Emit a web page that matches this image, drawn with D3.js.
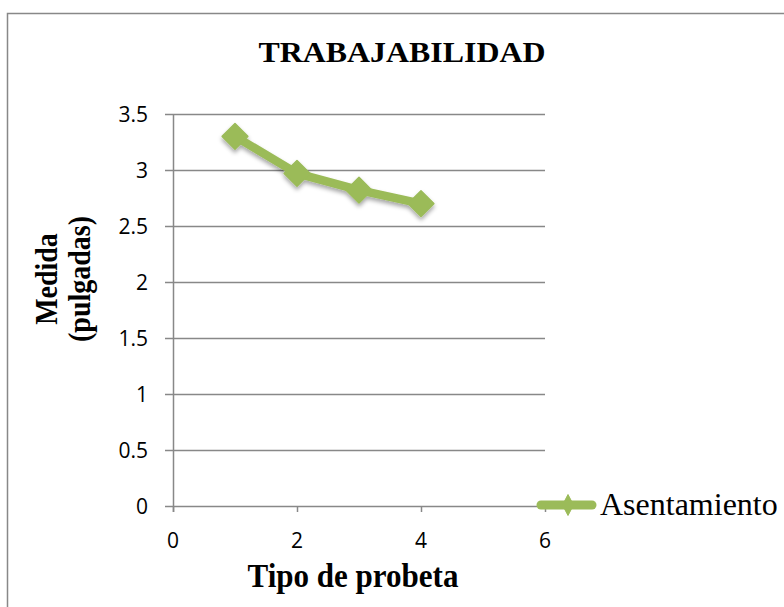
<!DOCTYPE html>
<html>
<head>
<meta charset="utf-8">
<script src="https://cdn.jsdelivr.net/npm/d3@7"></script>
<style>
  body { margin: 0; background: #fff; }
  svg text { fill: #000; }
</style>
</head>
<body>
<svg id="chart" width="784" height="607"></svg>
<script>
// data
var probeta = [1, 2, 3, 4];
var asentamiento = [3.3, 2.97, 2.82, 2.7];
var xTicks = [0, 2, 4, 6];
var yTicks = [0, 0.5, 1, 1.5, 2, 2.5, 3, 3.5];
var seriesName = "Asentamiento";
var green = "#9bbb59";

var svg = d3.select("#chart");
var serif = "'Liberation Serif', 'Times New Roman', serif";
var tickFont = "'Open Sans', 'Liberation Sans', sans-serif";

// outer frame
svg.append("rect")
  .attr("x", 7.5).attr("y", 13.5)
  .attr("width", 800).attr("height", 620)
  .attr("fill", "none").attr("stroke", "#888").attr("stroke-width", 1.5);

var x = d3.scaleLinear().domain([0, 6]).range([173, 545]);
var y = d3.scaleLinear().domain([0, 3.5]).range([506, 114]);

var defs = svg.append("defs");
var f = defs.append("filter").attr("id", "shadow")
  .attr("x", "-20%").attr("y", "-20%").attr("width", "140%").attr("height", "160%");
f.append("feDropShadow").attr("dx", 0).attr("dy", 3).attr("stdDeviation", 2)
  .attr("flood-color", "#000").attr("flood-opacity", 0.35);

// gridlines
svg.append("g").selectAll("line").data(yTicks).join("line")
  .attr("x1", 165).attr("x2", x(6))
  .attr("y1", function(d) { return Math.round(y(d)) + 0.5; })
  .attr("y2", function(d) { return Math.round(y(d)) + 0.5; })
  .attr("stroke", "#888").attr("stroke-width", 1.5);

// y axis line
svg.append("line")
  .attr("x1", x(0) + 0.5).attr("x2", x(0) + 0.5)
  .attr("y1", y(3.5)).attr("y2", y(0) + 6)
  .attr("stroke", "#888").attr("stroke-width", 1.5);

// x ticks
svg.append("g").selectAll("line").data(xTicks).join("line")
  .attr("x1", function(d) { return Math.round(x(d)) + 0.5; })
  .attr("x2", function(d) { return Math.round(x(d)) + 0.5; })
  .attr("y1", y(0)).attr("y2", y(0) + 6)
  .attr("stroke", "#888").attr("stroke-width", 1.5);

svg.append("g").selectAll("text").data(yTicks).join("text")
  .attr("x", 148).attr("y", function(d) { return y(d) + 7.5; })
  .attr("text-anchor", "end")
  .style("font-family", tickFont).style("font-size", "21px")
  .text(function(d) { return d; });

svg.append("g").selectAll("text").data(xTicks).join("text")
  .attr("x", function(d) { return x(d); }).attr("y", 548)
  .attr("text-anchor", "middle")
  .style("font-family", tickFont).style("font-size", "21px")
  .text(function(d) { return d; });

// series
var line = d3.line()
  .x(function(d, i) { return x(probeta[i]); })
  .y(function(d) { return y(d); });

// rotated square marker
var marker = d3.symbol().type(d3.symbolSquare).size(330);

var g = svg.append("g").attr("filter", "url(#shadow)");
g.append("path").datum(asentamiento)
  .attr("d", line)
  .attr("fill", "none").attr("stroke", green)
  .attr("stroke-width", 8.5).attr("stroke-linejoin", "round").attr("stroke-linecap", "round");

g.selectAll("path.pt").data(asentamiento).join("path")
  .attr("class", "pt")
  .attr("d", marker)
  .attr("transform", function(d, i) { return "translate(" + x(probeta[i]) + "," + y(d) + ") rotate(45)"; })
  .attr("fill", green).attr("stroke", green).attr("stroke-width", 1.5).attr("stroke-linejoin", "round");

// legend
var lg = svg.append("g").attr("transform", "translate(0,505)");
lg.append("line")
  .attr("x1", 541).attr("x2", 592).attr("y1", 0).attr("y2", 0)
  .attr("stroke", green).attr("stroke-width", 9).attr("stroke-linecap", "round");
lg.append("path")
  .attr("d", "M0,-10.5L5.5,0L0,10.5L-5.5,0Z")
  .attr("transform", "translate(568,0)")
  .attr("fill", green).attr("stroke", green).attr("stroke-linejoin", "round");
lg.append("text")
  .attr("x", 600).attr("y", 10)
  .style("font-family", serif)
  .style("font-size", "32px")
  .text(seriesName);

// titles
svg.append("text")
  .attr("transform", "translate(402,62) scale(1.1,1)")
  .attr("text-anchor", "middle")
  .style("font-family", serif).style("font-weight", "bold").style("font-size", "29px")
  .text("TRABAJABILIDAD");

svg.append("text")
  .attr("transform", "translate(353,587) scale(0.97,1.08)")
  .attr("text-anchor", "middle")
  .style("font-family", serif).style("font-weight", "bold").style("font-size", "32px")
  .text("Tipo de probeta");

var yt = svg.append("text")
  .attr("transform", "translate(57,279) rotate(-90) scale(1,1.15)")
  .attr("text-anchor", "middle")
  .style("font-family", serif).style("font-weight", "bold").style("font-size", "28px");
yt.append("tspan").attr("x", 0).attr("dy", 0).text("Medida");
yt.append("tspan").attr("x", 0).attr("dy", 29).text("(pulgadas)");
</script>
</body>
</html>
